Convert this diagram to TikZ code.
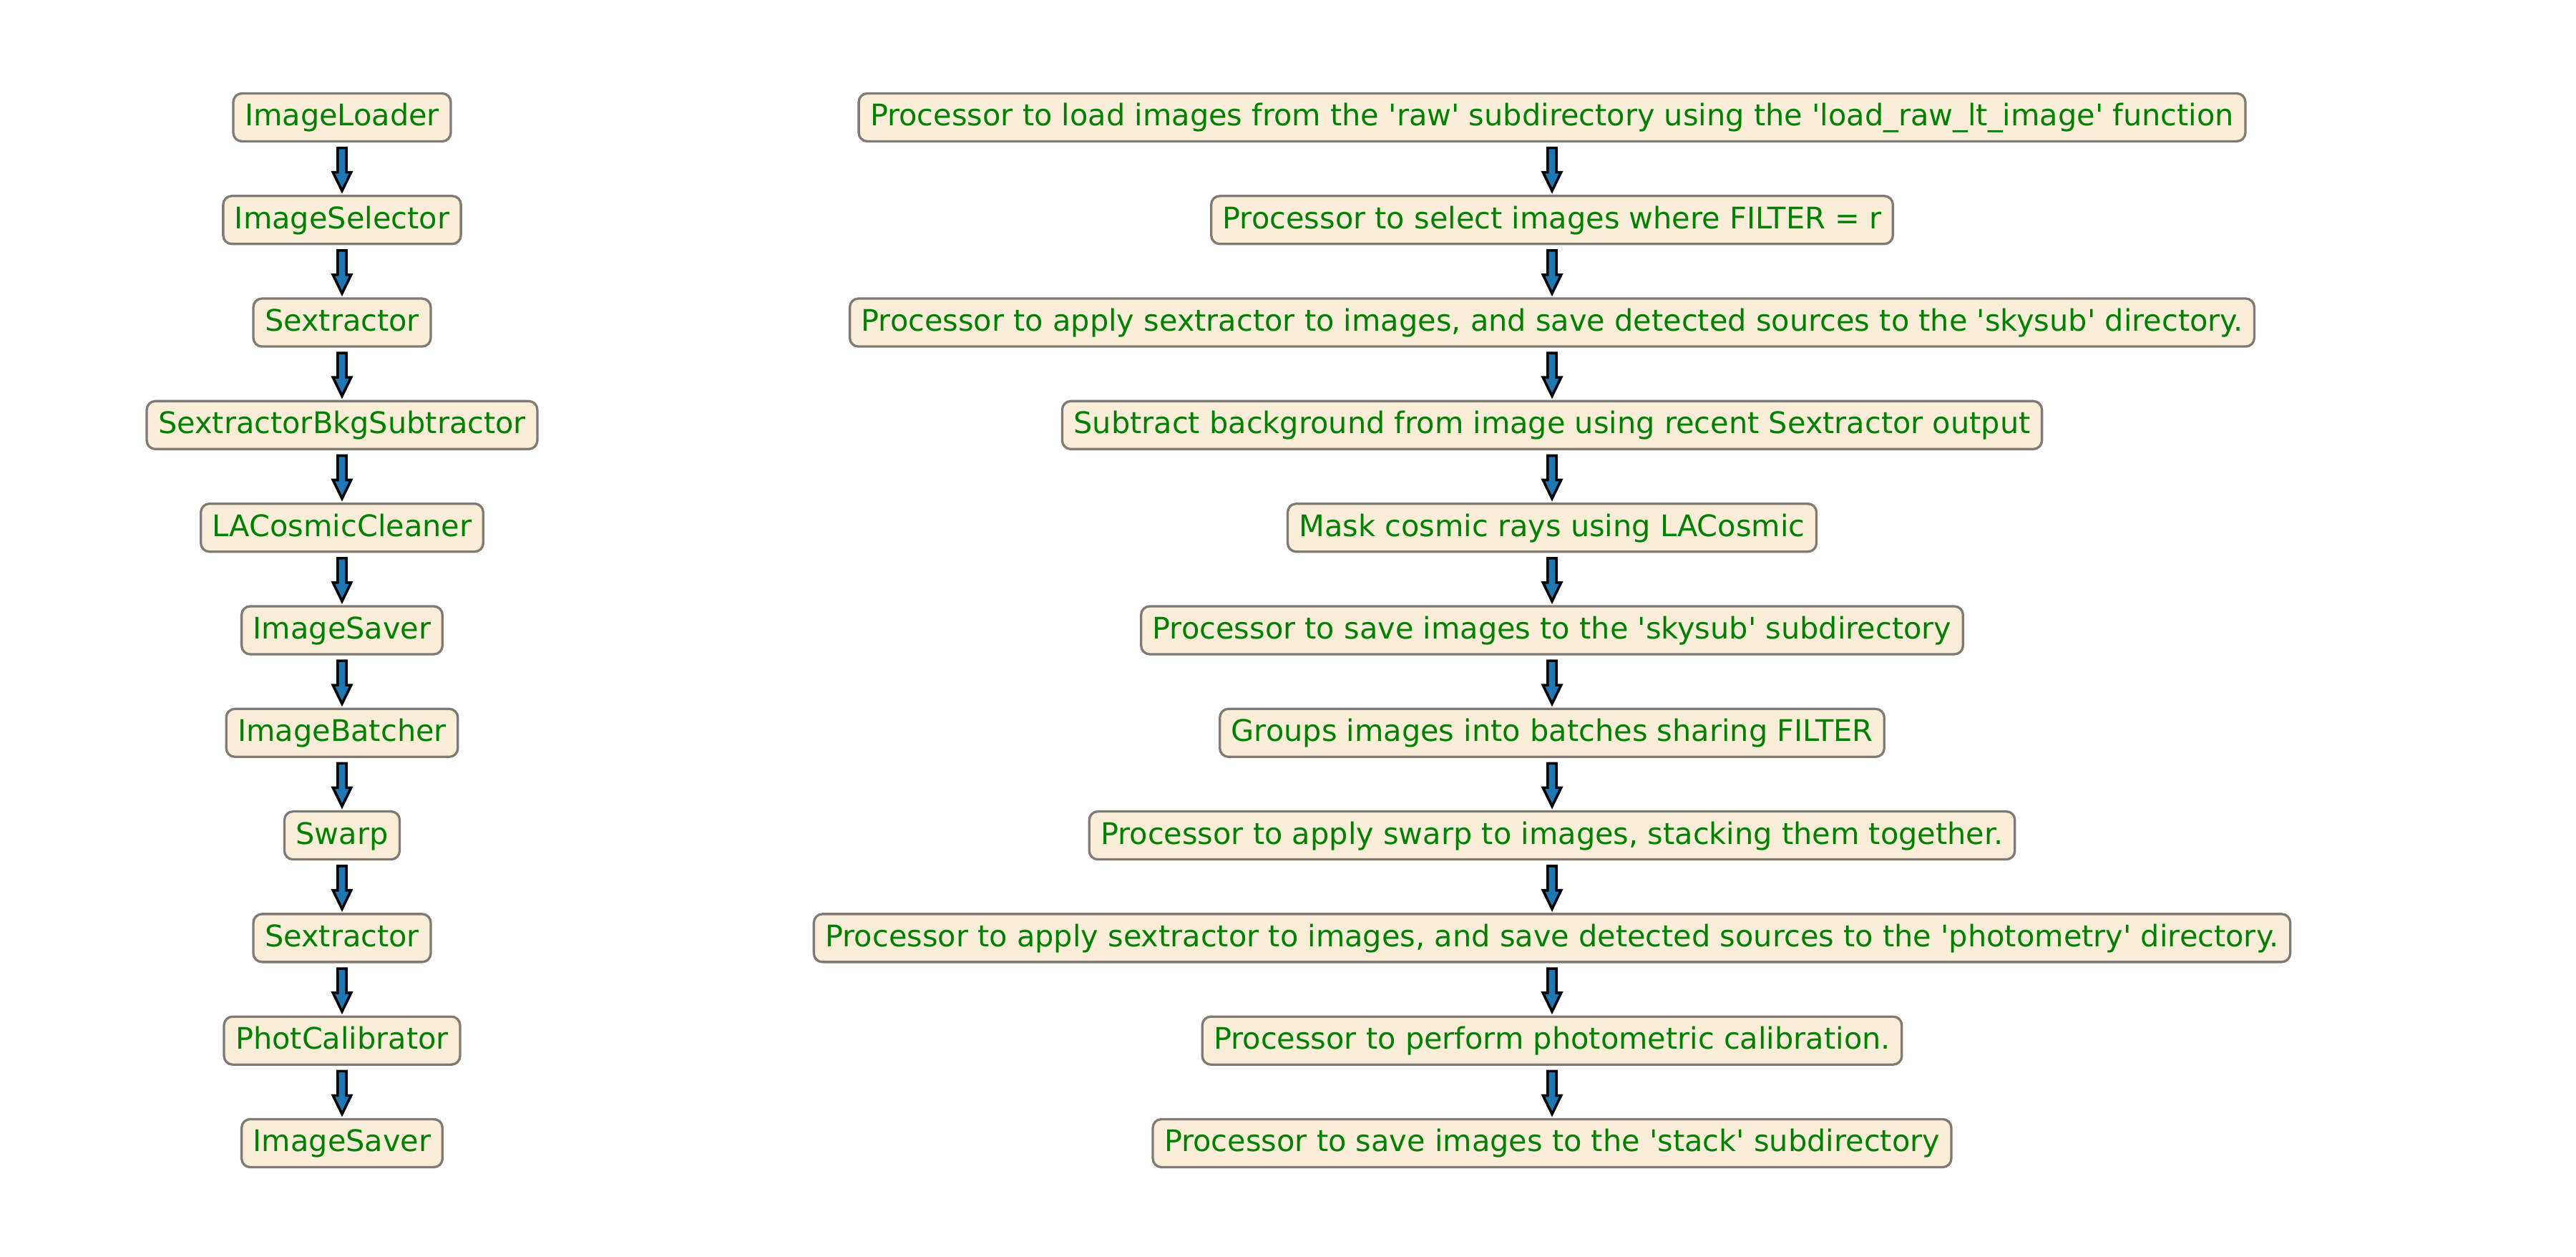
\documentclass[tikz,border=0pt]{standalone}
\usepackage{fontspec}
\newfontfamily\flowfont{DejaVu Sans}
\usepackage{tikz}
\usetikzlibrary{shapes.arrows}

\definecolor{boxfill}{RGB}{250,238,217}
\definecolor{boxedge}{RGB}{127,122,115}
\definecolor{labelgreen}{RGB}{0,128,0}
\definecolor{arrowblue}{RGB}{31,119,180}

\tikzset{
  procbox/.style={draw=boxedge, fill=boxfill, line width=0.033cm, rounded corners=0.12cm,
    text=labelgreen, font={\flowfont\fontsize{11.8pt}{14pt}\selectfont},
    inner xsep=0.16cm, inner ysep=0pt, text height=0.455cm, text depth=0.215cm, outer sep=0pt},
  flowarrow/.style={single arrow, draw=black, fill=arrowblue, line width=0.036cm,
    shape border rotate=270, inner sep=0.043cm, minimum height=0.6cm, minimum width=0pt,
    single arrow head extend=0.066cm, single arrow tip angle=52, outer sep=0pt, anchor=tail}
}

\begin{document}
\begin{tikzpicture}

\useasboundingbox (0,0) rectangle (36,17.55);

% ---- pipeline steps (class name | description) -----------------------------
\foreach \n/\desc [count=\i] in {
  ImageLoader/{Processor to load images from the 'raw' subdirectory using the 'load\_raw\_lt\_image' function},
  ImageSelector/{Processor to select images where FILTER = r},
  Sextractor/{Processor to apply sextractor to images, and save detected sources to the 'skysub' directory.},
  SextractorBkgSubtractor/{Subtract background from image using recent Sextractor output},
  LACosmicCleaner/{Mask cosmic rays using LACosmic},
  ImageSaver/{Processor to save images to the 'skysub' subdirectory},
  ImageBatcher/{Groups images into batches sharing FILTER},
  Swarp/{Processor to apply swarp to images, stacking them together.},
  Sextractor/{Processor to apply sextractor to images, and save detected sources to the 'photometry' directory.},
  PhotCalibrator/{Processor to perform photometric calibration.},
  ImageSaver/{Processor to save images to the 'stack' subdirectory}}
{
  \node[procbox] (cls\i) at (4.78, {15.91-1.433*(\i-1)}) {\n};
  \node[procbox] (doc\i) at (21.69, {15.91-1.433*(\i-1)}) {\desc};
}

% ---- arrows between consecutive steps --------------------------------------
\foreach \i [evaluate=\i as \j using int(\i+1)] in {1,...,10} {
  \path (cls\i.south) -- (cls\j.north) node[pos=0.12, flowarrow] {};
  \path (doc\i.south) -- (doc\j.north) node[pos=0.12, flowarrow] {};
}

\end{tikzpicture}
\end{document}
